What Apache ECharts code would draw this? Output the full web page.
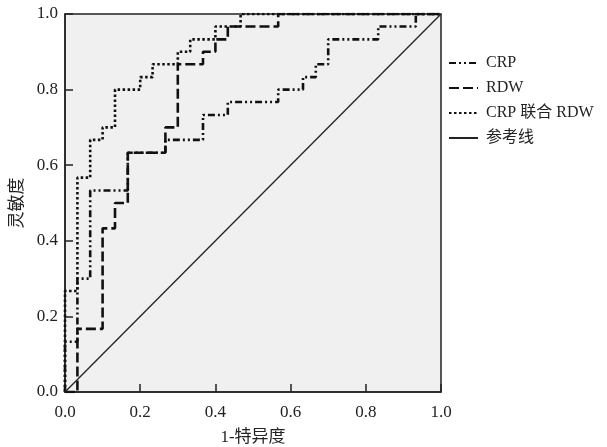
<!DOCTYPE html>
<html>
<head>
<meta charset="utf-8">
<script src="https://cdn.jsdelivr.net/npm/echarts@6/dist/echarts.min.js"></script>
<style>
  html, body { margin: 0; padding: 0; background: #fff; }
  #chart { width: 607px; height: 447px; }
</style>
</head>
<body>
<div id="chart"></div>
<script>
// ROC curves, x = 1-特异度, y = 灵敏度
var crpX = [0, 0, 0.033, 0.033, 0.067, 0.067, 0.167, 0.167, 0.267, 0.267, 0.367, 0.367, 0.433, 0.433, 0.567, 0.567, 0.633, 0.633, 0.667, 0.667, 0.7, 0.7, 0.833, 0.833, 0.933, 0.933, 1];
var crpY = [0, 0.133, 0.133, 0.3, 0.3, 0.533, 0.533, 0.633, 0.633, 0.667, 0.667, 0.733, 0.733, 0.767, 0.767, 0.8, 0.8, 0.833, 0.833, 0.867, 0.867, 0.933, 0.933, 0.967, 0.967, 1, 1];

var rdwX = [0, 0.033, 0.033, 0.1, 0.1, 0.133, 0.133, 0.167, 0.167, 0.267, 0.267, 0.3, 0.3, 0.367, 0.367, 0.4, 0.4, 0.433, 0.433, 0.567, 0.567, 1];
var rdwY = [0, 0, 0.167, 0.167, 0.433, 0.433, 0.5, 0.5, 0.633, 0.633, 0.7, 0.7, 0.867, 0.867, 0.9, 0.9, 0.933, 0.933, 0.967, 0.967, 1, 1];

var combX = [0, 0, 0.033, 0.033, 0.067, 0.067, 0.1, 0.1, 0.133, 0.133, 0.2, 0.2, 0.233, 0.233, 0.3, 0.3, 0.333, 0.333, 0.4, 0.4, 0.467, 0.467, 1];
var combY = [0, 0.267, 0.267, 0.567, 0.567, 0.667, 0.667, 0.7, 0.7, 0.8, 0.8, 0.833, 0.833, 0.867, 0.867, 0.9, 0.9, 0.933, 0.933, 0.967, 0.967, 1, 1];

var refX = [0, 1];
var refY = [0, 1];

var seriesNames = ['CRP', 'RDW', 'CRP 联合 RDW', '参考线'];
var tickLabels = ['0.0', '0.2', '0.4', '0.6', '0.8', '1.0'];

function pairs(xs, ys) {
    var out = [];
    for (var i = 0; i < xs.length; i++) out.push([xs[i], ys[i]]);
    return out;
}

var serif = '"Liberation Serif", "Times New Roman", "Noto Sans CJK SC", serif';

var myChart = echarts.init(document.getElementById('chart'));
var option = {
    animation: false,
    backgroundColor: '#fff',
    textStyle: { fontFamily: serif },
    grid: {
        left: 65, top: 14, width: 376, height: 378,
        outerBoundsMode: 'none',
        containLabel: false,
        show: true,
        backgroundColor: '#f0f0f0',
        borderColor: '#222',
        borderWidth: 1.5
    },
    legend: {
        orient: 'vertical',
        left: 443, top: 50,
        itemWidth: 29, itemHeight: 14, itemGap: 9,
        itemStyle: { color: 'rgba(0,0,0,0)', borderWidth: 0, opacity: 0 },
        textStyle: { fontFamily: serif, fontSize: 16, color: '#222', padding: [0, 0, 0, 3] },
        data: seriesNames
    },
    xAxis: {
        type: 'value', min: 0, max: 1, interval: 0.2,
        name: '1-特异度', nameLocation: 'middle', nameGap: 37,
        nameTextStyle: { fontFamily: serif, fontSize: 17, color: '#222' },
        axisLine: { lineStyle: { color: '#222', width: 1.5 } },
        axisTick: { inside: true, length: 8, lineStyle: { color: '#222', width: 1.5 } },
        axisLabel: {
            fontFamily: serif, fontSize: 17, color: '#222', margin: 12,
            formatter: function (v) { return tickLabels[Math.round(v * 5)]; }
        },
        splitLine: { show: false }
    },
    yAxis: {
        type: 'value', min: 0, max: 1, interval: 0.2,
        name: '灵敏度', nameLocation: 'middle', nameGap: 38, nameRotate: 90,
        nameTextStyle: { fontFamily: serif, fontSize: 17, color: '#222' },
        axisLine: { lineStyle: { color: '#222', width: 1.5 } },
        axisTick: { inside: true, length: 8, lineStyle: { color: '#222', width: 1.5 } },
        axisLabel: {
            fontFamily: serif, fontSize: 17, color: '#222', margin: 7,
            formatter: function (v) { return tickLabels[Math.round(v * 5)]; }
        },
        splitLine: { show: false }
    },
    series: [
        {
            name: seriesNames[0], type: 'line', symbol: 'none',
            data: pairs(crpX, crpY),
            lineStyle: { color: '#111', width: 2.6, type: [7, 3, 2, 3, 2, 3] },
            itemStyle: { color: '#111' }
        },
        {
            name: seriesNames[1], type: 'line', symbol: 'none',
            data: pairs(rdwX, rdwY),
            lineStyle: { color: '#111', width: 2.6, type: [10, 4] },
            itemStyle: { color: '#111' }
        },
        {
            name: seriesNames[2], type: 'line', symbol: 'none',
            data: pairs(combX, combY),
            lineStyle: { color: '#111', width: 2.6, type: [2.5, 2.5] },
            itemStyle: { color: '#111' }
        },
        {
            name: seriesNames[3], type: 'line', symbol: 'none',
            data: pairs(refX, refY),
            lineStyle: { color: '#222', width: 1.3, type: 'solid' },
            itemStyle: { color: '#222' }
        }
    ]
};

option && myChart.setOption(option);
</script>
</body>
</html>
